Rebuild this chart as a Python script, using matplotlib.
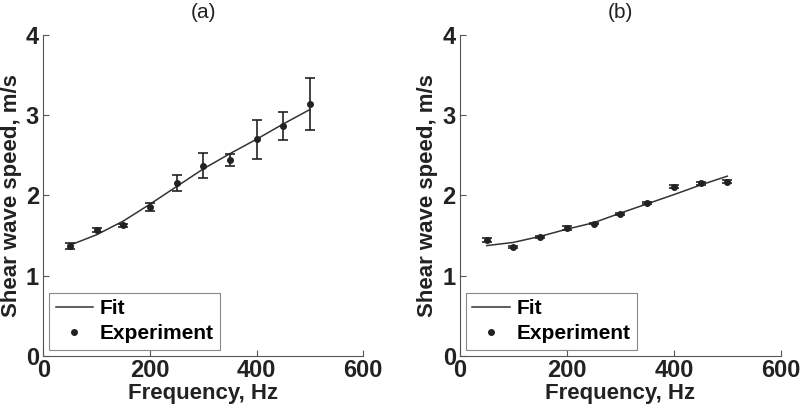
import matplotlib
matplotlib.use('Agg')
import matplotlib.pyplot as plt
import numpy as np

plt.rcParams['font.family'] = ['Liberation Sans', 'DejaVu Sans']

freq = np.array([50, 100, 150, 200, 250, 300, 350, 400, 450, 500])

# panel (a)
speed_a = np.array([1.37, 1.57, 1.63, 1.85, 2.16, 2.37, 2.44, 2.70, 2.87, 3.14])
err_a = np.array([0.04, 0.02, 0.02, 0.05, 0.10, 0.155, 0.07, 0.24, 0.175, 0.32])
fit_a = np.array([1.38, 1.51, 1.68, 1.89, 2.11, 2.33, 2.52, 2.70, 2.89, 3.07])

# panel (b)
speed_b = np.array([1.445, 1.36, 1.48, 1.595, 1.65, 1.765, 1.905, 2.11, 2.15, 2.17])
err_b = np.array([0.02, 0.01, 0.01, 0.02, 0.01, 0.01, 0.01, 0.02, 0.02, 0.02])
fit_b = np.array([1.375, 1.415, 1.49, 1.58, 1.66, 1.78, 1.895, 2.01, 2.13, 2.24])

xticks = [0, 200, 400, 600]
yticks = [0, 1, 2, 3, 4]

fig = plt.figure(figsize=(8, 4.08), dpi=100)
ax_a = fig.add_axes([0.054, 0.1275, 0.40, 0.787])
ax_b = fig.add_axes([0.575, 0.1275, 0.401, 0.787])

col = '#222222'
for ax, spd, err, fit, title in [(ax_a, speed_a, err_a, fit_a, '(a)'),
                                 (ax_b, speed_b, err_b, fit_b, '(b)')]:
    ax.plot(freq, fit, '-', color='#333333', lw=1.1, label='Fit')
    ax.errorbar(freq, spd, yerr=err, fmt='o', color=col, ms=4,
                ecolor=col, elinewidth=1.2, capsize=3.5, capthick=1.2,
                label='Experiment')
    ax.set_xlim(0, 600)
    ax.set_ylim(0, 4)
    ax.set_xticks(xticks)
    ax.set_yticks(yticks)
    for s in ['top', 'right']:
        ax.spines[s].set_visible(False)
    for s in ['left', 'bottom']:
        ax.spines[s].set_color('#555555')
        ax.spines[s].set_linewidth(0.8)
    ax.tick_params(direction='in', length=4, width=0.8, color='#555555',
                   labelsize=17, pad=2)
    ax.tick_params(axis='y', pad=3)
    for lab in ax.get_xticklabels() + ax.get_yticklabels():
        lab.set_fontweight('bold')
        lab.set_color(col)
    ax.set_xlabel('Frequency, Hz', fontsize=16, fontweight='bold', color=col, labelpad=1)
    ax.set_ylabel('Shear wave speed, m/s', fontsize=16, fontweight='bold', color=col, labelpad=3)
    ax.set_title(title, fontsize=15, color=col, pad=12)
    h, l = ax.get_legend_handles_labels()
    hh = [h[0], plt.Line2D([], [], ls='none', marker='o', ms=4, color=col)]
    leg = ax.legend(hh, l, loc='lower left', fancybox=False,
                    edgecolor='#888888', framealpha=1, handlelength=1.8,
                    handletextpad=0.3, borderpad=0.3, labelspacing=0.3,
                    borderaxespad=0.3, prop={'weight': 'bold', 'size': 15})
    leg.get_frame().set_linewidth(0.8)

fig.savefig('out.png', dpi=100)
